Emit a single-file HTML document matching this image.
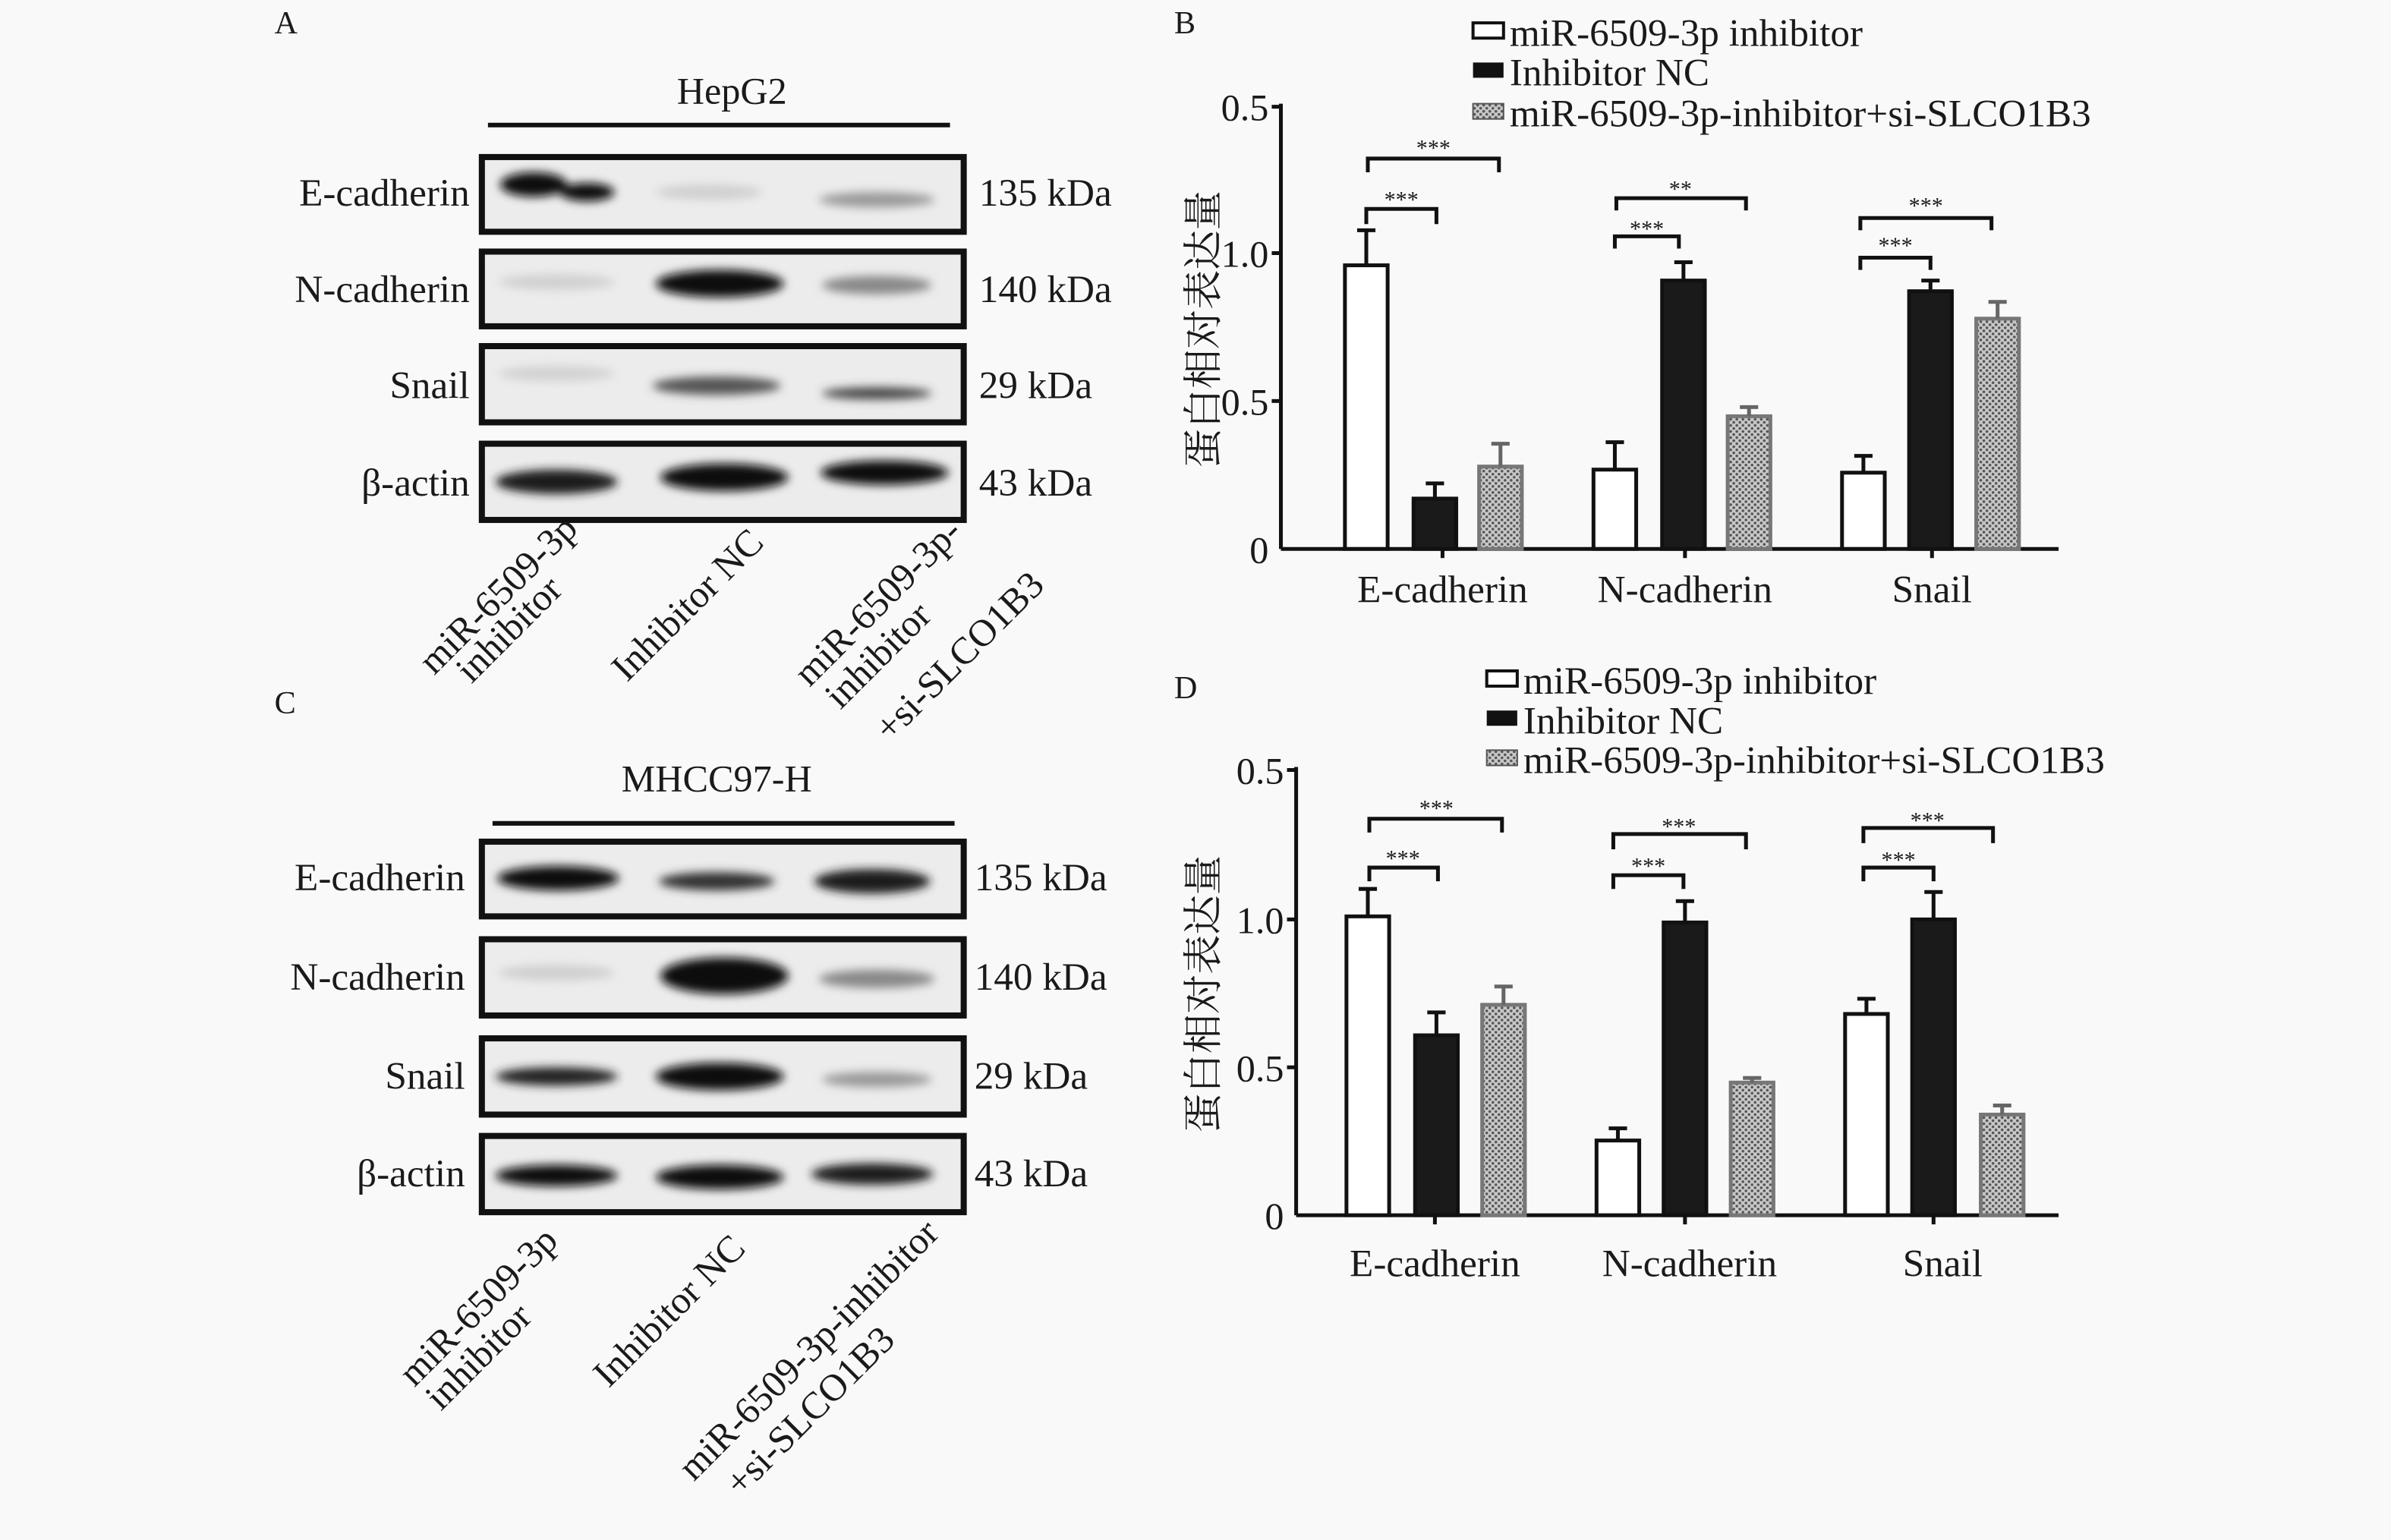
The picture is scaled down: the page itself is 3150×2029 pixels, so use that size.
<!DOCTYPE html>
<html><head><meta charset="utf-8"><style>
html,body{margin:0;padding:0;background:#f9f9f9;}
svg{display:block;}
text{font-family:"Liberation Serif","Noto Serif CJK SC",serif;fill:#1a1a1a;}
</style></head><body>
<svg width="3150" height="2029" viewBox="0 0 1568 1010" preserveAspectRatio="none" xmlns="http://www.w3.org/2000/svg">
<defs>
<filter id="bl" x="-20%" y="-50%" width="140%" height="200%"><feGaussianBlur stdDeviation="3"/></filter>
<pattern id="ht" width="4" height="4" patternUnits="userSpaceOnUse"><rect width="4" height="4" fill="#c8c8c8"/><circle cx="1" cy="1" r="0.9" fill="#555"/><circle cx="3" cy="3" r="0.9" fill="#555"/></pattern>
</defs>
<rect width="1568" height="1010" fill="#f9f9f9"/>

<!-- Panel A -->
<text x="180" y="22" font-size="21">A</text>
<text x="480" y="68" font-size="25" text-anchor="middle">HepG2</text>
<line x1="320" y1="82" x2="623" y2="82" stroke="#111" stroke-width="3"/>
<g font-size="25.5">
<text x="308" y="135" text-anchor="end">E-cadherin</text>
<text x="308" y="198" text-anchor="end">N-cadherin</text>
<text x="308" y="261" text-anchor="end">Snail</text>
<text x="308" y="325" text-anchor="end">β-actin</text>
<text x="642" y="135">135 kDa</text>
<text x="642" y="198">140 kDa</text>
<text x="642" y="261">29 kDa</text>
<text x="642" y="325">43 kDa</text>
</g>
<g stroke="#111" stroke-width="4" fill="#ececec">
<rect x="316" y="103" width="316" height="49"/>
<rect x="316" y="165" width="316" height="49"/>
<rect x="316" y="227" width="316" height="50"/>
<rect x="316" y="291" width="316" height="50"/>
</g>
<g filter="url(#bl)">
<ellipse cx="350" cy="121" rx="22" ry="8" fill="#111"/><ellipse cx="385" cy="126" rx="18" ry="6" fill="#111"/>
<ellipse cx="465" cy="126" rx="35" ry="5" fill="#d0d0d0"/>
<ellipse cx="575" cy="131" rx="38" ry="5" fill="#999"/>
<ellipse cx="365" cy="185" rx="38" ry="5" fill="#d0d0d0"/>
<ellipse cx="472" cy="186" rx="42" ry="9" fill="#111"/>
<ellipse cx="575" cy="187" rx="36" ry="6" fill="#888"/>
<ellipse cx="365" cy="245" rx="38" ry="5" fill="#d2d2d2"/>
<ellipse cx="470" cy="253" rx="42" ry="6" fill="#555"/>
<ellipse cx="575" cy="258" rx="36" ry="4" fill="#444"/>
<ellipse cx="365" cy="316" rx="40" ry="8" fill="#1a1a1a"/>
<ellipse cx="475" cy="313" rx="42" ry="9" fill="#111"/>
<ellipse cx="580" cy="310" rx="42" ry="8" fill="#111"/>
</g>
<g font-size="25">
<text transform="translate(380,348) rotate(-45)" text-anchor="end">miR-6509-3p</text>
<text transform="translate(370,388) rotate(-45)" text-anchor="end">inhibitor</text>
<text transform="translate(502,357) rotate(-45)" text-anchor="end">Inhibitor NC</text>
<text transform="translate(632,350) rotate(-45)" text-anchor="end">miR-6509-3p-</text>
<text transform="translate(612,405) rotate(-45)" text-anchor="end">inhibitor</text>
<text transform="translate(686,385) rotate(-45)" text-anchor="end">+si-SLCO1B3</text>
</g>

<!-- Panel C -->
<text x="180" y="468" font-size="21">C</text>
<text x="470" y="519" font-size="25" text-anchor="middle">MHCC97-H</text>
<line x1="323" y1="540" x2="626" y2="540" stroke="#111" stroke-width="3"/>
<g font-size="25.5">
<text x="305" y="584" text-anchor="end">E-cadherin</text>
<text x="305" y="649" text-anchor="end">N-cadherin</text>
<text x="305" y="714" text-anchor="end">Snail</text>
<text x="305" y="778" text-anchor="end">β-actin</text>
<text x="639" y="584">135 kDa</text>
<text x="639" y="649">140 kDa</text>
<text x="639" y="714">29 kDa</text>
<text x="639" y="778">43 kDa</text>
</g>
<g stroke="#111" stroke-width="4" fill="#ececec">
<rect x="316" y="552" width="316" height="49"/>
<rect x="316" y="616" width="316" height="50"/>
<rect x="316" y="681" width="316" height="50"/>
<rect x="316" y="745" width="316" height="50"/>
</g>
<g filter="url(#bl)">
<ellipse cx="366" cy="576" rx="40" ry="8" fill="#111"/>
<ellipse cx="470" cy="578" rx="38" ry="6" fill="#333"/>
<ellipse cx="572" cy="578" rx="38" ry="8" fill="#1a1a1a"/>
<ellipse cx="365" cy="638" rx="38" ry="5" fill="#cfcfcf"/>
<ellipse cx="475" cy="640" rx="42" ry="12" fill="#111"/>
<ellipse cx="575" cy="642" rx="38" ry="6" fill="#888"/>
<ellipse cx="365" cy="706" rx="40" ry="6" fill="#222"/>
<ellipse cx="472" cy="706" rx="42" ry="9" fill="#111"/>
<ellipse cx="575" cy="708" rx="36" ry="5" fill="#999"/>
<ellipse cx="365" cy="771" rx="40" ry="7" fill="#111"/>
<ellipse cx="472" cy="772" rx="42" ry="8" fill="#111"/>
<ellipse cx="572" cy="770" rx="40" ry="7" fill="#1a1a1a"/>
</g>
<g font-size="25">
<text transform="translate(367,815) rotate(-45)" text-anchor="end">miR-6509-3p</text>
<text transform="translate(350,865) rotate(-45)" text-anchor="end">inhibitor</text>
<text transform="translate(490,820) rotate(-45)" text-anchor="end">Inhibitor NC</text>
<text transform="translate(617,810) rotate(-45)" text-anchor="end">miR-6509-3p-inhibitor</text>
<text transform="translate(588,880) rotate(-45)" text-anchor="end">+si-SLCO1B3</text>
</g>

<!-- Panel B -->
<text x="770" y="22" font-size="21">B</text>
<g font-size="25.5">
<rect x="966" y="15" width="20" height="10" fill="#fff" stroke="#111" stroke-width="2"/><text x="990" y="30">miR-6509-3p inhibitor</text>
<rect x="966" y="41" width="20" height="10" fill="#111"/><text x="990" y="56">Inhibitor NC</text>
<rect x="966" y="68" width="20" height="10" fill="url(#ht)" stroke="#555"/><text x="990" y="83">miR-6509-3p-inhibitor+si-SLCO1B3</text>
</g>
<g stroke="#111" stroke-width="2.5" fill="none">
<line x1="840" y1="68" x2="840" y2="360"/><line x1="840" y1="360" x2="1350" y2="360"/>
<line x1="834" y1="70" x2="840" y2="70"/><line x1="834" y1="166" x2="840" y2="166"/><line x1="834" y1="263" x2="840" y2="263"/>
<line x1="946" y1="360" x2="946" y2="366"/><line x1="1105" y1="360" x2="1105" y2="366"/><line x1="1267" y1="360" x2="1267" y2="366"/>
</g>
<g font-size="25" text-anchor="end"><text x="832" y="79">0.5</text><text x="832" y="175">1.0</text><text x="832" y="272">0.5</text><text x="832" y="369">0</text></g>
<text transform="translate(798,216) rotate(-90)" font-size="26" text-anchor="middle">蛋白相对表达量</text>
<g font-size="25.5" text-anchor="middle"><text x="946" y="395">E-cadherin</text><text x="1105" y="395">N-cadherin</text><text x="1267" y="395">Snail</text></g>
<g stroke="#111" stroke-width="2.5">
<rect x="882" y="174" width="28" height="186" fill="#fff"/>
<rect x="927" y="327" width="28" height="33" fill="#1a1a1a"/>
<rect x="970" y="306" width="28" height="54" fill="url(#ht)" stroke="#777"/>
<rect x="1045" y="308" width="28" height="52" fill="#fff"/>
<rect x="1090" y="184" width="28" height="176" fill="#1a1a1a"/>
<rect x="1133" y="273" width="28" height="87" fill="url(#ht)" stroke="#777"/>
<rect x="1208" y="310" width="28" height="50" fill="#fff"/>
<rect x="1252" y="191" width="28" height="169" fill="#1a1a1a"/>
<rect x="1296" y="209" width="28" height="151" fill="url(#ht)" stroke="#777"/>
</g>
<g stroke="#111" stroke-width="2.5" fill="none">
<path d="M896 174V151M890 151H902"/><path d="M941 327V317M935 317H947"/><path d="M984 306V291M978 291H990" stroke="#666"/>
<path d="M1059 308V290M1053 290H1065"/><path d="M1104 184V172M1098 172H1110"/><path d="M1147 273V267M1141 267H1153" stroke="#666"/>
<path d="M1222 310V299M1216 299H1228"/><path d="M1266 191V184M1260 184H1272"/><path d="M1310 209V198M1304 198H1316" stroke="#666"/>
<path d="M897 113V104H983V113"/><path d="M896 147V137H942V147"/>
<path d="M1060 138V130H1145V138"/><path d="M1059 163V155H1101V163"/>
<path d="M1220 151V143H1306V151"/><path d="M1220 177V169H1266V177"/>
</g>
<g font-size="15" text-anchor="middle"><text x="940" y="102">***</text><text x="919" y="136">***</text><text x="1102" y="129">**</text><text x="1080" y="155">***</text><text x="1263" y="140">***</text><text x="1243" y="166">***</text></g>

<!-- Panel D -->
<text x="770" y="458" font-size="21">D</text>
<g font-size="25.5">
<rect x="975" y="440" width="20" height="10" fill="#fff" stroke="#111" stroke-width="2"/><text x="999" y="455">miR-6509-3p inhibitor</text>
<rect x="975" y="466" width="20" height="10" fill="#111"/><text x="999" y="481">Inhibitor NC</text>
<rect x="975" y="492" width="20" height="10" fill="url(#ht)" stroke="#555"/><text x="999" y="507">miR-6509-3p-inhibitor+si-SLCO1B3</text>
</g>
<g stroke="#111" stroke-width="2.5" fill="none">
<line x1="850" y1="503" x2="850" y2="797"/><line x1="850" y1="797" x2="1350" y2="797"/>
<line x1="844" y1="505" x2="850" y2="505"/><line x1="844" y1="603" x2="850" y2="603"/><line x1="844" y1="700" x2="850" y2="700"/>
<line x1="941" y1="797" x2="941" y2="803"/><line x1="1105" y1="797" x2="1105" y2="803"/><line x1="1268" y1="797" x2="1268" y2="803"/>
</g>
<g font-size="25" text-anchor="end"><text x="842" y="514">0.5</text><text x="842" y="612">1.0</text><text x="842" y="709">0.5</text><text x="842" y="806">0</text></g>
<text transform="translate(798,652) rotate(-90)" font-size="26" text-anchor="middle">蛋白相对表达量</text>
<g font-size="25.5" text-anchor="middle"><text x="941" y="837">E-cadherin</text><text x="1108" y="837">N-cadherin</text><text x="1274" y="837">Snail</text></g>
<g stroke="#111" stroke-width="2.5">
<rect x="883" y="601" width="28" height="196" fill="#fff"/>
<rect x="928" y="679" width="28" height="118" fill="#1a1a1a"/>
<rect x="972" y="659" width="28" height="138" fill="url(#ht)" stroke="#777"/>
<rect x="1047" y="748" width="28" height="49" fill="#fff"/>
<rect x="1091" y="605" width="28" height="192" fill="#1a1a1a"/>
<rect x="1135" y="710" width="28" height="87" fill="url(#ht)" stroke="#777"/>
<rect x="1210" y="665" width="28" height="132" fill="#fff"/>
<rect x="1254" y="603" width="28" height="194" fill="#1a1a1a"/>
<rect x="1299" y="731" width="28" height="66" fill="url(#ht)" stroke="#777"/>
</g>
<g stroke="#111" stroke-width="2.5" fill="none">
<path d="M897 601V583M891 583H903"/><path d="M942 679V664M936 664H948"/><path d="M986 659V647M980 647H992" stroke="#666"/>
<path d="M1061 748V740M1055 740H1067"/><path d="M1105 605V591M1099 591H1111"/><path d="M1149 710V707M1143 707H1155" stroke="#666"/>
<path d="M1224 665V655M1218 655H1230"/><path d="M1268 603V585M1262 585H1274"/><path d="M1313 731V725M1307 725H1319" stroke="#666"/>
<path d="M898 546V537H985V546"/><path d="M898 578V569H943V578"/>
<path d="M1058 557V547H1145V557"/><path d="M1058 583V574H1104V583"/>
<path d="M1222 553V543H1307V553"/><path d="M1222 578V569H1268V578"/>
</g>
<g font-size="15" text-anchor="middle"><text x="942" y="535">***</text><text x="920" y="568">***</text><text x="1101" y="547">***</text><text x="1081" y="573">***</text><text x="1264" y="543">***</text><text x="1245" y="569">***</text></g>
</svg>
</body></html>
